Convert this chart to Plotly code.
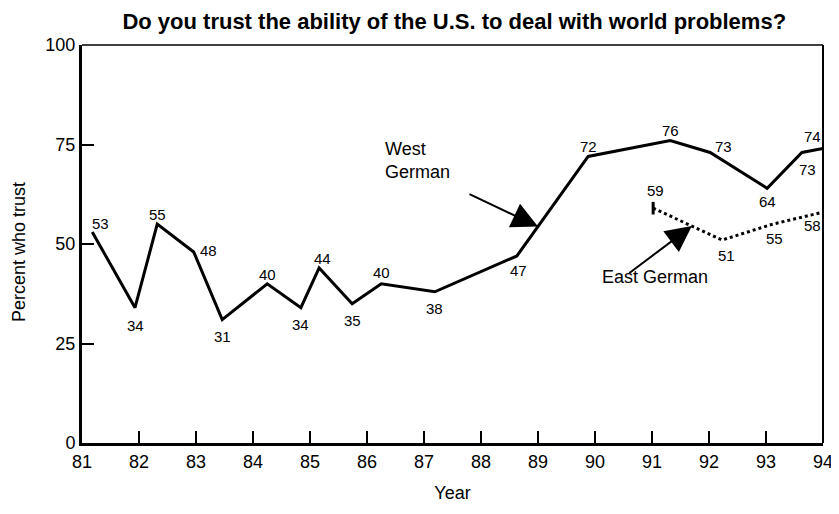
import plotly.graph_objects as go

# West German series (year position, percent)
west_years = [81.18, 81.93, 82.32, 82.96, 83.46, 84.25, 84.84, 85.16, 85.74,
              86.25, 87.19, 88.63, 89.88, 91.32, 92.02, 93.02, 93.63, 94.0]
west_values = [53, 34, 55, 48, 31, 40, 34, 44, 35, 40, 38, 47, 72, 76, 73, 64, 73, 74]

# East German series
east_years = [91.02, 92.23, 93.12, 94.0]
east_values = [59, 51, 55, 58]

x_ticks = list(range(81, 95))
y_ticks = [0, 25, 50, 75, 100]

# label offsets (pixels) for value labels
west_label_offsets = [(8, 9), (0, -18), (0, 10), (15, 1), (0, -17), (0, 9), (0, -17),
                      (3, 9), (0, -17), (0, 11), (0, -17), (2, -15), (0, 10), (0, 10),
                      (13, 6), (0, -13), (6, -17), (-11, 12)]
east_label_offsets = [(2, 18), (4, -15), (2, -14), (-11, -13)]

FONT = "Liberation Sans, Arial, Helvetica, sans-serif"

fig = go.Figure()
fig.add_trace(go.Scatter(x=west_years, y=west_values, mode="lines",
                         line=dict(color="black", width=3), showlegend=False))
fig.add_trace(go.Scatter(x=east_years, y=east_values, mode="lines",
                         line=dict(color="black", width=3, dash="dot"), showlegend=False))
fig.add_trace(go.Scatter(x=east_years[:1], y=east_values[:1], mode="markers",
                         marker=dict(symbol="line-ns", size=9,
                                     line=dict(color="black", width=3)),
                         showlegend=False))

annotations = []
for xv, yv, (dx, dy) in zip(west_years, west_values, west_label_offsets):
    annotations.append(dict(x=xv, y=yv, text=str(yv), showarrow=False,
                            xshift=dx, yshift=dy, font=dict(size=15, color="black", family=FONT)))
for xv, yv, (dx, dy) in zip(east_years, east_values, east_label_offsets):
    annotations.append(dict(x=xv, y=yv, text=str(yv), showarrow=False,
                            xshift=dx, yshift=dy, font=dict(size=15, color="black", family=FONT)))

# West German pointer
annotations.append(dict(x=89.0, y=47 + 25 * (89.0 - 88.63) / (89.88 - 88.63), text="",
                        showarrow=True, arrowhead=2, arrowsize=2.6, arrowwidth=2,
                        arrowcolor="black", ax=-70, ay=-33))
annotations.append(dict(x=86.28, y=71, text="West<br>German", showarrow=False,
                        xanchor="left", yanchor="middle", align="left",
                        font=dict(size=18, color="black", family=FONT)))
# East German pointer
annotations.append(dict(x=91.70, y=59 - 8 * (91.70 - 91.02) / (92.23 - 91.02), text="",
                        showarrow=True, arrowhead=2, arrowsize=2.6, arrowwidth=2,
                        arrowcolor="black", ax=-64, ay=48))
annotations.append(dict(x=91.05, y=41.7, text="East German", showarrow=False,
                        xanchor="center", yanchor="middle",
                        font=dict(size=18, color="black", family=FONT)))
# y-axis title
annotations.append(dict(xref="paper", yref="paper", x=-0.085, y=0.48,
                        text="Percent who trust", textangle=-90, showarrow=False,
                        xanchor="center", yanchor="middle",
                        font=dict(size=18, color="black", family=FONT)))

fig.update_layout(
    width=831, height=506,
    margin=dict(l=74, r=16, t=37, b=71, autoexpand=False),
    paper_bgcolor="white", plot_bgcolor="white",
    font=dict(family=FONT, color="black", size=18),
    title=dict(text="<b>Do you trust the ability of the U.S. to deal with world problems?</b>",
               x=0.537, xanchor="center", y=0.974, yanchor="middle",
               font=dict(size=22, family=FONT, color="black")),
    xaxis=dict(range=[81, 94], tickvals=x_ticks, ticktext=[str(t) for t in x_ticks],
               ticks="inside", ticklen=12, tickwidth=1.5, tickcolor="black",
               showgrid=False, zeroline=False, showline=True, linewidth=3, linecolor="black",
               automargin=False,
               title=dict(text="Year", standoff=16, font=dict(size=18)),
               tickfont=dict(size=18)),
    yaxis=dict(range=[0, 100], tickvals=y_ticks, ticks="inside", ticklen=12, tickwidth=1.5,
               tickcolor="black", showgrid=False, zeroline=False, showline=True, linewidth=3,
               linecolor="black", automargin=False,
               tickfont=dict(size=18)),
    annotations=annotations,
    shapes=[
        dict(type="line", xref="paper", yref="paper", x0=0, x1=1, y0=1, y1=1,
             line=dict(color="black", width=1.5)),
        dict(type="line", xref="paper", yref="paper", x0=1, x1=1, y0=0, y1=1,
             line=dict(color="black", width=2)),
    ],
)

fig.write_html("out.html")
